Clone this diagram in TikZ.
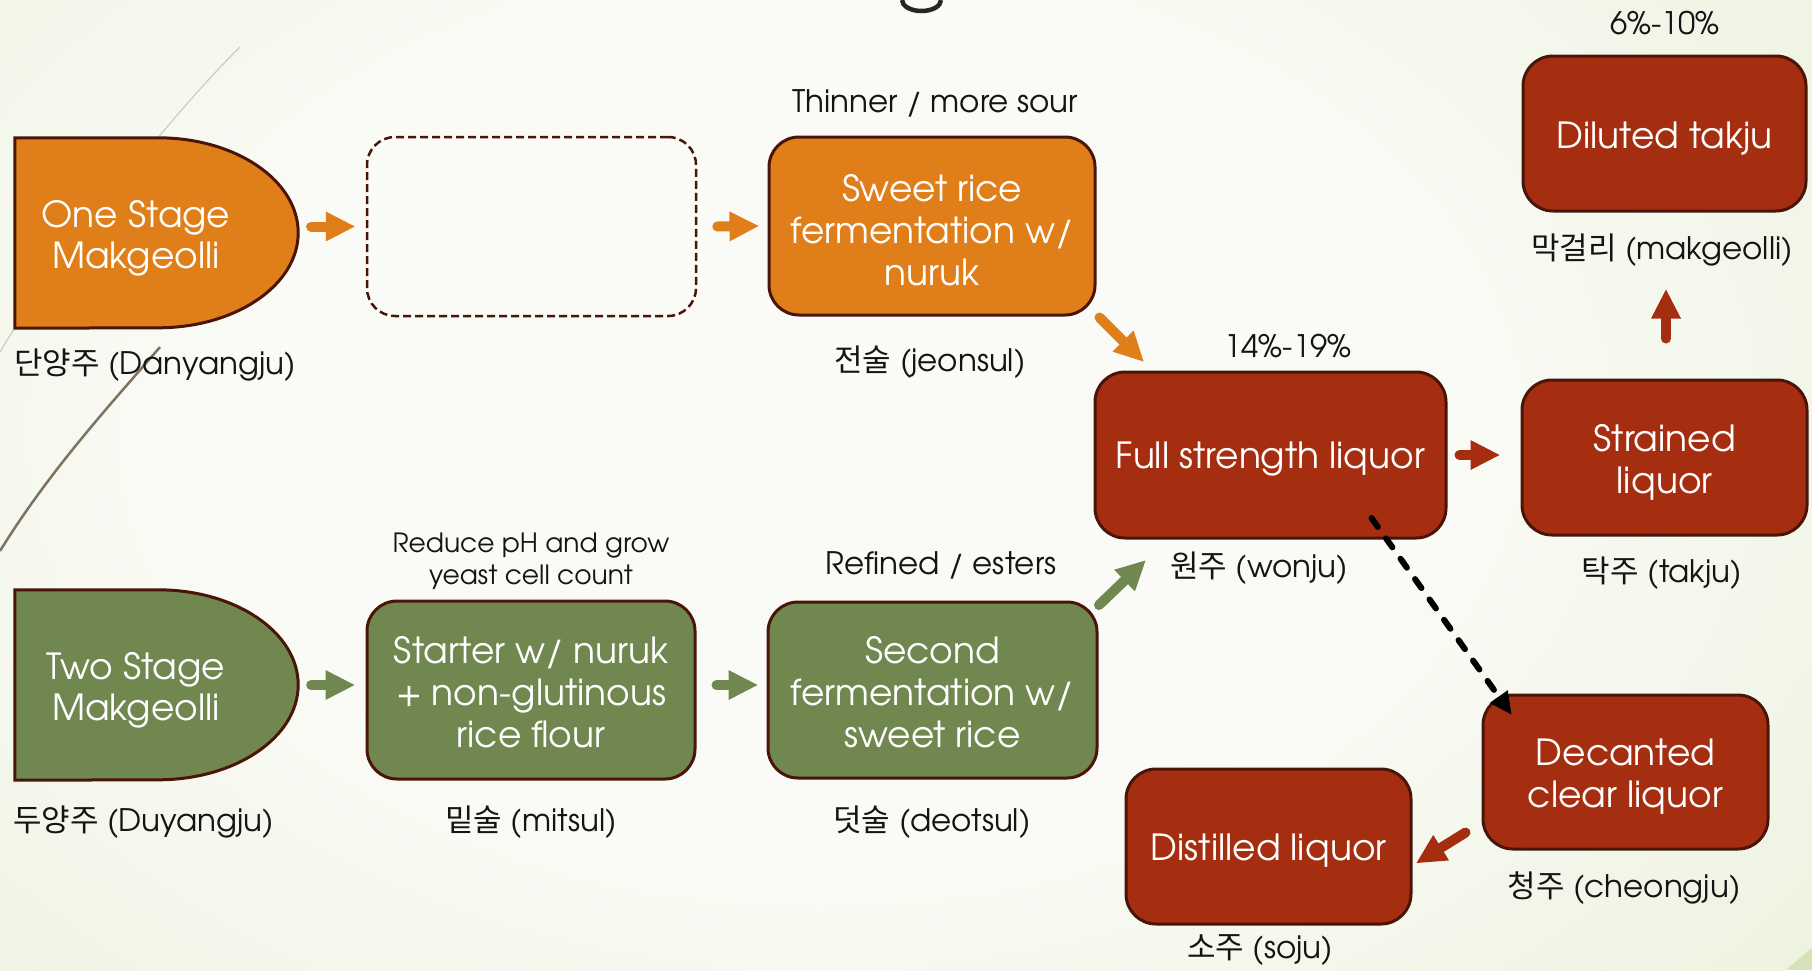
\documentclass[tikz,border=0pt]{standalone}
\usepackage{fontspec}
\setmainfont{TeX Gyre Adventor}
\newfontfamily\kr{Noto Sans CJK KR}
\usetikzlibrary{arrows.meta,calc}
\definecolor{bgo}{RGB}{214,227,184}
\definecolor{bgc}{RGB}{250,251,246}
\definecolor{orng}{RGB}{224,126,26}
\definecolor{grn}{RGB}{113,135,80}
\definecolor{redb}{RGB}{166,46,16}
\definecolor{edge}{RGB}{74,21,9}
\definecolor{ink}{RGB}{20,20,20}
\definecolor{wispa}{RGB}{205,205,185}
\definecolor{wispb}{RGB}{125,115,95}
\definecolor{titlegray}{RGB}{38,38,38}
\pgfdeclareradialshading{bgshade}{\pgfpoint{0bp}{0bp}}{color(0bp)=(bgc); color(12bp)=(bgc); color(50bp)=(bgo)}
\begin{document}
\begin{tikzpicture}[x=1pt,y=-1pt,
  box/.style={draw=edge, line width=3pt, rounded corners=30pt, inner sep=0pt},
  btext/.style={text=white, align=center, font=\fontsize{36}{42}\selectfont, inner sep=0pt},
  dtext/.style={text=white, align=center, font=\fontsize{36}{41}\selectfont, inner sep=0pt},
  lab/.style={text=ink, align=center, font=\fontsize{31}{36}\selectfont, inner sep=0pt},
  slab/.style={text=ink, align=center, font=\fontsize{26.5}{32}\selectfont, inner sep=0pt},
  barr/.style={line width=10pt, line cap=round, -{Triangle[length=29pt,width=30pt,line width=0pt]}},
  dshape/.style={draw=edge, line width=3pt},
  darr/.style={line width=6pt, black, line cap=round, dash pattern=on 11pt off 14pt,
    -{Triangle[length=22pt,width=22pt,line width=0pt]}},
]
\useasboundingbox (0,0) rectangle (1812,970);
\fill[bgo] (0,0) rectangle (1812,970);
\begin{scope}
  \clip (0,0) rectangle (1812,970);
  \shade[shading=bgshade] (820,430) ellipse [x radius=1250pt, y radius=850pt];
\end{scope}
% wisp lines
\draw[line width=1.2pt, wispa] (240,47) .. controls (190,95) and (60,250) .. (0,352);
\draw[line width=2.5pt, wispb] (160,347) .. controls (110,405) and (50,470) .. (0,551);
% cut-off title letter
\draw[line width=4.5pt, titlegray] (902,0) arc[start angle=180, end angle=360, x radius=19.5pt, y radius=11pt];

% D shapes
\node[minimum width=283pt, minimum height=190pt, inner sep=0pt] (one) at (156.5,233) {};
\draw[dshape, fill=orng] (one.south west) -- (one.north west) -- ($(one.north east)+(-140,0)$)
  arc[start angle=90, end angle=-90, x radius=140pt, y radius=95pt] -- cycle;
\node[dtext] (onet) at (136,238) {One Stage\\Makgeolli};

\node[minimum width=283pt, minimum height=190pt, inner sep=0pt] (two) at (156.5,685) {};
\draw[dshape, fill=grn] (two.south west) -- (two.north west) -- ($(two.north east)+(-140,0)$)
  arc[start angle=90, end angle=-90, x radius=140pt, y radius=95pt] -- cycle;
\node[dtext] (twot) at (136,690) {Two Stage\\Makgeolli};

% boxes
\node[draw=edge, line width=2.5pt, dash pattern=on 8pt off 4pt, rounded corners=28pt,
  minimum width=329pt, minimum height=179pt] (dash) at (531.5,226.5) {};
\node[box, fill=orng, minimum width=326pt, minimum height=178pt] (sweet) at (932,226) {};
\node[box, fill=grn, minimum width=328pt, minimum height=178pt] (starter) at (531,690) {};
\node[box, fill=grn, minimum width=329pt, minimum height=176pt] (second) at (932.5,690) {};
\node[box, fill=redb, minimum width=351pt, minimum height=166pt] (full) at (1270.5,455) {};
\node[box, fill=redb, minimum width=285pt, minimum height=155pt] (strained) at (1664.5,457.5) {};
\node[box, fill=redb, minimum width=283pt, minimum height=155pt] (diluted) at (1664.5,133.5) {};
\node[box, fill=redb, minimum width=285pt, minimum height=154pt] (dec) at (1625.5,772) {};
\node[box, fill=redb, minimum width=285pt, minimum height=155pt] (dist) at (1268.5,846.5) {};

\node[btext] (sweett) at ($(sweet)+(0,4.5)$) {Sweet rice\\fermentation w/\\nuruk};
\node[btext] (startert) at ($(starter)+(0,2)$) {Starter w/ nuruk\\+ non-glutinous\\rice flour};
\node[btext] (secondt) at ($(second)+(0,2.5)$) {Second\\fermentation w/\\sweet rice};
\node[btext] (fullt) at ($(full)+(0,4.5)$) {Full strength liquor};
\node[btext] (strainedt) at ($(strained)+(0,4.5)$) {Strained\\liquor};
\node[btext] (dilutedt) at ($(diluted)+(0,5)$) {Diluted takju};
\node[btext] (dect) at ($(dec)+(0,4.5)$) {Decanted\\clear liquor};
\node[btext] (distt) at ($(dist)+(0,4.5)$) {Distilled liquor};

% labels
\node[lab, anchor=west] (l1) at (14,365) {{\kr 단양주} (Danyangju)};
\node[lab, anchor=west] (l2) at (13,822) {{\kr 두양주} (Duyangju)};
\node[lab] (l3) at (935,103) {Thinner / more sour};
\node[lab] (l4) at (930,362) {{\kr 전술} (jeonsul)};
\node[slab] (l5) at (531,561) {Reduce pH and grow\\yeast cell count};
\node[lab] (l6) at (531,822) {{\kr 밑술} (mitsul)};
\node[lab] (l7) at (941,565) {Refined / esters};
\node[lab] (l8) at (932,822) {{\kr 덧술} (deotsul)};
\node[lab] (l9) at (1288,346) {14\%-19\%};
\node[lab] (l10) at (1259,568) {{\kr 원주} (wonju)};
\node[lab] (l11) at (1665,23) {6\%-10\%};
\node[lab] (l12) at (1662,250) {{\kr 막걸리} (makgeolli)};
\node[lab] (l13) at (1662,573) {{\kr 탁주} (takju)};
\node[lab] (l14) at (1624,888) {{\kr 청주} (cheongju)};
\node[lab] (l15) at (1260,950) {{\kr 소주} (soju)};

% arrows
\draw[barr, orng] ($(one.east|-dash.west)+(13,0)$) -- ($(dash.west)+(-11,0)$);
\draw[barr, orng] ($(dash.east)+(20,0)$) -- ($(sweet.west)+(-9,0)$);
\draw[barr, grn] ($(two.east)+(13,0)$) -- ($(two.east-|starter.west)+(-11,0)$);
\draw[barr, grn] ($(starter.east|-two.east)+(20,0)$) -- ($(second.west|-two.east)+(-9,0)$);
\draw[barr, orng] ($(sweet.south east)+(3,1)$) -- ($(full.north west)+(50,-9)$);
\draw[barr, grn] ($(second.north east)+(0.5,4.5)$) -- ($(full.south west)+(52,21)$);
\draw[barr, redb] ($(full.east)+(12,0)$) -- ($(full.east-|strained.west)+(-21,0)$);
\draw[barr, redb] ($(strained.north)+(1.5,-40)$) -- ($(diluted.south)+(1.5,77)$);
\draw[barr, redb] ($(dec.south west)+(-16,-18)$) -- ($(dist.east)+(4,16.5)$);
\draw[darr] ($(full.center)+(101,63)$) -- ($(dec.north west)+(30,21)$);
\end{tikzpicture}
\end{document}
